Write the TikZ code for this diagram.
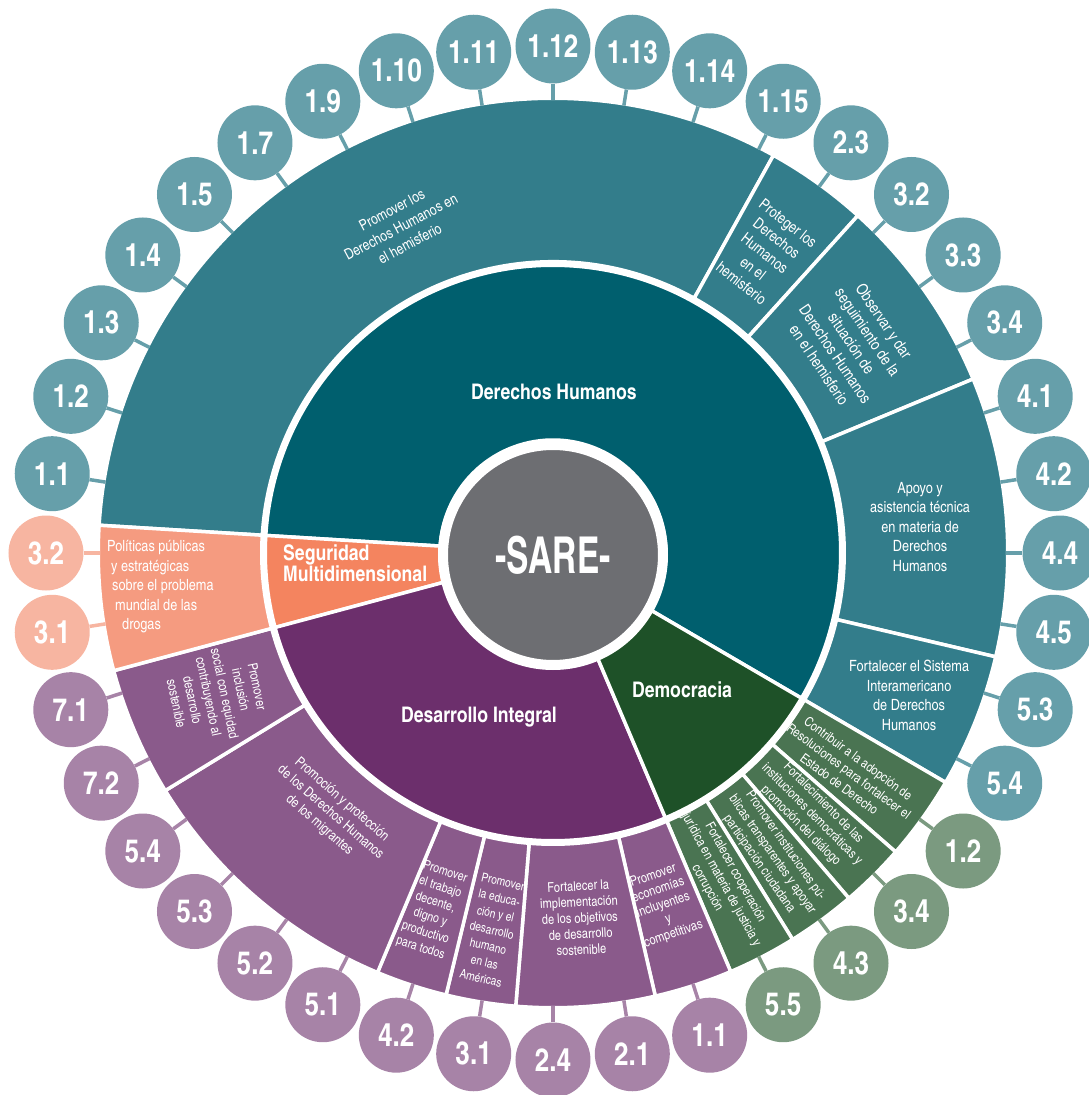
\documentclass[tikz,border=0pt]{standalone}
\usepackage{fontspec,graphicx}
\newfontfamily\cn{texgyreheroscn}[Extension=.otf,UprightFont=*-regular,BoldFont=*-bold]

\definecolor{dhA}{HTML}{005F6E}
\definecolor{dhB}{HTML}{337D8B}
\definecolor{dhC}{HTML}{669FAA}
\definecolor{segA}{HTML}{F4845F}
\definecolor{segB}{HTML}{F59B80}
\definecolor{segC}{HTML}{F7B5A1}
\definecolor{diA}{HTML}{6C2F6C}
\definecolor{diB}{HTML}{8A5A8B}
\definecolor{diC}{HTML}{A783A7}
\definecolor{demA}{HTML}{1E5128}
\definecolor{demB}{HTML}{4A7452}
\definecolor{demC}{HTML}{7B9A80}
\definecolor{sareC}{HTML}{6D6E72}

% one piece of a ring: start angle, end angle, inner radius, outer radius, colour
\newcommand{\ringpart}[5]{\path[part,fill=#5] (#1:#3) arc[start angle=#1,end angle=#2,radius=#3]
  -- (#2:#4) arc[start angle=#2,end angle=#1,radius=#4] -- cycle;}

\begin{document}
\begin{tikzpicture}[x=1pt,y=1pt,
                    part/.style={draw=white,line width=3.5pt,line join=round},
                    txt/.style 2 args={text=white,align=center,inner sep=0pt,font=\cn\fontsize{#1}{#2}\selectfont},
                    cat/.style={text=white,inner sep=0pt,font=\cn\bfseries\fontsize{21.5}{21}\selectfont},
                    num/.style={circle,minimum size=75pt,inner sep=0pt,text=white,font=\cn\bfseries\fontsize{32}{32}\selectfont},
                    link/.style={line width=3.5pt}]
	\useasboundingbox (-553,-542) rectangle (536,553);

	% inner ring
	\ringpart{-30.3}{176.5}{113}{287.75}{dhA}
	\ringpart{176.5}{195}{113}{287.75}{segA}
	\ringpart{195}{293}{113}{287.75}{diA}
	\ringpart{293}{329.7}{113}{287.75}{demA}

	% outer ring
	\ringpart{61}{176.5}{291.25}{454.75}{dhB}
	\ringpart{47.9}{61}{291.25}{454.75}{dhB}
	\ringpart{22.5}{47.9}{291.25}{454.75}{dhB}
	\ringpart{-13.2}{22.5}{291.25}{454.75}{dhB}
	\ringpart{-30.3}{-13.2}{291.25}{454.75}{dhB}
	\ringpart{-41.1}{-30.3}{291.25}{454.75}{demB}
	\ringpart{-49.4}{-41.1}{291.25}{454.75}{demB}
	\ringpart{-58.2}{-49.4}{291.25}{454.75}{demB}
	\ringpart{-67}{-58.2}{291.25}{454.75}{demB}
	\ringpart{-77}{-67}{291.25}{454.75}{diB}
	\ringpart{-94.7}{-77}{291.25}{454.75}{diB}
	\ringpart{-103.6}{-94.7}{291.25}{454.75}{diB}
	\ringpart{-112.7}{-103.6}{291.25}{454.75}{diB}
	\ringpart{-148.5}{-112.7}{291.25}{454.75}{diB}
	\ringpart{-165}{-148.5}{291.25}{454.75}{diB}
	\ringpart{176.5}{195}{291.25}{454.75}{segB}

	% centre
	\node[circle,fill=sareC,draw=white,line width=10pt,minimum size=220pt,text=white,
	      font=\cn\bfseries\fontsize{41}{41}\selectfont]	(sare)	at (0,-2)	{\scalebox{1}[1.24]{-SARE-}};

	% categories
	\node[cat]						(dh)	at (1,161)		{Derechos Humanos};
	\node[cat,align=left,anchor=west]	(seg)	at (-270,-10.5)	{Seguridad\\Multidimensional};
	\node[cat]						(di)	at (-74,-164)	{Desarrollo Integral};
	\node[cat]						(dem)	at (129,-137)	{Democracia};

	% objectives
	\node[txt={15}{19},rotate=28]		(promover)	at (115:360)	{Promover los\\Derechos Humanos en\\el hemisferio};
	\node[txt={15.5}{19},rotate=-38]	(proteger)	at (54.75:367)	{Proteger los\\Derechos\\Humanos\\en el\\hemisferio};
	\node[txt={16}{19.5},rotate=-56]	(observar)	at (35.1:365)	{Observar y dar\\seguimiento de la\\situación de\\Derechos Humanos\\en el hemisferio};
	\node[txt={15.5}{19.5}]			(apoyo)		at (4.05:368)	{Apoyo y\\asistencia técnica\\en materia de\\Derechos\\Humanos};
	\node[txt={15.5}{19.5}]			(sistema)	at (-21.8:383.5)	{Fortalecer el Sistema\\Interamericano\\de Derechos\\Humanos};
	\node[txt={13.3}{16},rotate=-36.5]	(contribuir)	at (-36.4:367.6)	{Contribuir a la adopción de\\Resoluciones para fortalecer el\\Estado de Derecho};
	\node[txt={13.3}{16},rotate=-45]	(fortal)	at (-45.3:368)	{Fortalecimiento de las\\instituciones democráticas y\\promoción del diálogo};
	\node[txt={13.3}{16},rotate=-55]	(instit)	at (-54:373)	{Promover instituciones pú-\\blicas transparentes y apoyar\\participación ciudadana};
	\node[txt={13.3}{16},rotate=-61]	(coop)		at (-62.8:368)	{Fortalecer cooperación\\jurídica en materia de justicia y\\corrupción};
	\node[txt={13.5}{15.5},rotate=19]	(econ)		at (-72.6:369)	{Promover\\economías\\incluyentes\\y\\competitivas};
	\node[txt={13.5}{16},rotate=3]		(ods)		at (-85.8:366)	{Fortalecer la\\implementación\\de los objetivos\\de desarrollo\\sostenible};
	\node[txt={12.5}{16.5},rotate=-13]	(educ)		at (-99.2:382)	{Promover\\la educa-\\ción y el\\desarrollo\\humano\\en las\\Américas};
	\node[txt={13}{16},rotate=-18]		(trabajo)	at (-108.6:377)	{Promover\\el trabajo\\decente,\\digno y\\productivo\\para todos};
	\node[txt={14}{17},rotate=-41]		(migr)		at (-130.6:342)	{Promoción y protección\\de los Derechos Humanos\\de los migrantes};
	\node[txt={13.5}{16.5},rotate=-78]	(inclus)	at (-157.1:365)	{Promover\\inclusión\\social con equidad\\contribuyendo al\\desarrollo\\sostenible};
	\node[txt={15.5}{19.5},align=left,anchor=west]	(drogas)	at (-446,-34)
		{Políticas públicas\\\hspace*{4pt}y estratégicas\\\hspace*{5pt}sobre el problema\\\hspace*{8pt}mundial de las\\\hspace*{15pt}drogas};

	% goals round the edge, 9 degrees apart
	\foreach \lab/\col [count=\k] in {3.2/segC,1.1/dhC,1.2/dhC,1.3/dhC,1.4/dhC,1.5/dhC,1.7/dhC,1.9/dhC,
	      1.10/dhC,1.11/dhC,1.12/dhC,1.13/dhC,1.14/dhC,1.15/dhC,2.3/dhC,3.2/dhC,3.3/dhC,3.4/dhC,
	      4.1/dhC,4.2/dhC,4.4/dhC,4.5/dhC,5.3/dhC,5.4/dhC,1.2/demC,3.4/demC,4.3/demC,5.5/demC,
	      1.1/diC,2.1/diC,2.4/diC,3.1/diC,4.2/diC,5.1/diC,5.2/diC,5.3/diC,5.4/diC,7.2/diC,7.1/diC,3.1/segC}
	{
		\coordinate	(e\k)	at ({189-9*\k}:453);
		\node[num,fill=\col]	(o\k)	at ({189-9*\k}:507)	{\lab};
		\draw[link,draw=\col]	(o\k) -- (e\k);
	}
\end{tikzpicture}
\end{document}
